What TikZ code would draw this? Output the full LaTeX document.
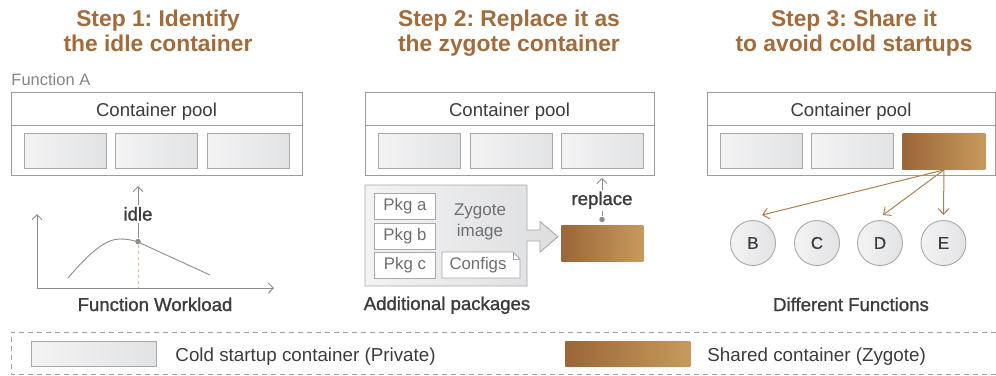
\documentclass[tikz,border=0pt]{standalone}
\usepackage{fontspec}
\setmainfont{Liberation Sans}
\newfontfamily\medfont[FakeBold=1.2]{Liberation Sans}
\newfontfamily\letterfont[FakeBold=0.6]{Liberation Sans}
\usetikzlibrary{arrows.meta,calc}
\frenchspacing

\definecolor{stepbrown}{HTML}{A36A3A}
\definecolor{zdark}{HTML}{9B6638}
\definecolor{zlight}{HTML}{C69A5D}
\definecolor{poolgray}{HTML}{9C9C9C}
\definecolor{boxgray}{HTML}{A8A8A8}
\definecolor{boxleft}{HTML}{F3F3F4}
\definecolor{boxright}{HTML}{E2E3E5}
\definecolor{txtdark}{HTML}{3C3C3C}
\definecolor{txtgray}{HTML}{6E6E6E}
\definecolor{fagray}{HTML}{858585}
\definecolor{arrowgray}{HTML}{8C8C8C}
\definecolor{arrowbrown}{HTML}{B07E4E}
\definecolor{idledash}{HTML}{E6B78E}
\definecolor{dashgray}{HTML}{A0A0A0}

\begin{document}
\begin{tikzpicture}[x=1pt,y=-1pt,line width=0.9pt,
  steptitle/.style={font=\bfseries\fontsize{22.8}{25}\selectfont,text=stepbrown,
    align=center,inner sep=0pt,anchor=north},
  pool/.style={draw=poolgray,fill=white,inner sep=0pt,anchor=north west,minimum height=83pt},
  poolline/.style={draw=poolgray},
  poolhead/.style={font=\fontsize{18.6}{20}\selectfont,text=txtdark,anchor=base,inner sep=0pt},
  cold/.style={draw=boxgray,left color=boxleft,right color=boxright,inner sep=0pt,
    anchor=north west,minimum width=82pt,minimum height=35pt},
  zyg/.style={left color=zdark,right color=zlight,draw=none,inner sep=0pt,
    anchor=north west,minimum width=82pt,minimum height=36pt},
  caption/.style={font=\medfont\fontsize{18.6}{20}\selectfont,text=txtdark,anchor=base,inner sep=0pt},
  legtext/.style={font=\fontsize{18.8}{20}\selectfont,text=txtdark,anchor=base west,inner sep=0pt},
  pkg/.style={draw=boxgray,fill=white,inner sep=0pt,anchor=north west,
    minimum width=61pt,minimum height=26pt,font=\fontsize{16.8}{18}\selectfont,text=txtgray},
  fn/.style={circle,draw=boxgray,left color=boxleft,right color=boxright,inner sep=0pt,
    minimum size=45pt,font=\letterfont\fontsize{17}{18}\selectfont,text=txtdark},
  garrow/.style={draw=arrowgray,-{Straight Barb[length=5pt,width=10pt]}},
  barrow/.style={draw=arrowbrown,line width=1pt,-{Straight Barb[length=6pt,width=11pt]}},
  dotmark/.style={circle,fill=arrowgray,inner sep=0pt,minimum size=5.5pt},
  legdash/.style={draw=dashgray,line width=0.8pt,dash pattern=on 5pt off 4pt}
]
\useasboundingbox (0,0) rectangle (996,375);

% ---------- step titles ----------
\node[steptitle] (t1) at (158,9.5) {Step 1: Identify\\the idle container};
\node[steptitle] (t2) at (509,9.5) {Step 2: Replace it as\\the zygote container};
\node[steptitle] (t3) at (854,9.5) {Step 3: Share it\\to avoid cold startups};

% ---------- step 1: container pool of function A ----------
\node[font=\fontsize{16.5}{18}\selectfont,text=fagray,anchor=base west,inner sep=0pt]
  (fa) at (11,85) {Function A};
\node[pool,minimum width=291pt] (p1) at (11,92) {};
\draw[poolline] (11,125.5) -- (302,125.5);
\node[poolhead] (h1) at (156.5,116) {Container pool};
\node[cold] (c11) at (24,133) {};
\node[cold] (c12) at (115,133) {};
\node[cold] (c13) at (207,133) {};

% workload chart
\coordinate (org) at (37,288);
\draw[garrow] (org) -- (37,214);
\draw[garrow] (org) -- (274,288);
\draw[draw=arrowgray] (68,278) .. controls (90,252) and (106,239) .. (120,239)
  .. controls (127,239) and (132,240) .. (138,242) -- (210,275);
\node[dotmark] (idot) at (138,241.5) {};
\draw[idledash,dashed,line width=1pt] (idot) -- (idot |- org);
\draw[garrow] (idot) -- (138,186);
\node[caption,fill=white,inner sep=2pt] (idle) at (138,220.5) {idle};
\node[caption] (cap1) at (155,311) {Function Workload};

% ---------- step 2: zygote replaces a pooled container ----------
\node[pool,minimum width=289pt] (p2) at (365,92) {};
\draw[poolline] (365,125.5) -- (654,125.5);
\node[poolhead] (h2) at (509.5,116) {Container pool};
\node[cold] (c21) at (378,133) {};
\node[cold] (c22) at (470,133) {};
\node[cold] (c23) at (561,133) {};

% zygote image panel with its arrow
\draw[draw=boxgray,left color=boxleft,right color=boxright!95!gray]
  (365,185) -- (527,185) -- (527,230) -- (540,230) -- (540,221.5) -- (558,236.7)
  -- (540,252) -- (540,241) -- (527,241) -- (527,286) -- (365,286) -- cycle;
\node[pkg] (pa) at (374,193) {Pkg a};
\node[pkg] (pb) at (374,222.5) {Pkg b};
\node[pkg] (pc) at (374,252) {Pkg c};
\draw[draw=boxgray,fill=white] (442,252) -- (513,252) -- (520,259) -- (520,278) -- (442,278) -- cycle;
\draw[draw=boxgray] (513,252) -- (513,259) -- (520,259);
\node[font=\fontsize{16.8}{18}\selectfont,text=txtgray,inner sep=0pt] (cfg) at (478,265.5) {Configs};
\node[font=\fontsize{17}{21}\selectfont,text=txtgray,align=center,inner sep=0pt,anchor=north]
  (zimg) at (480,203) {Zygote\\image};

\node[zyg] (z2) at (561,225) {};
\node[dotmark] (rdot) at (602,219.5) {};
\draw[garrow,shorten >=2pt] (rdot) -- (rdot |- p2.south);
\node[caption,fill=white,inner sep=2pt] (repl) at (602,205) {replace};
\node[caption] (cap2) at (447,310) {Additional packages};

% ---------- step 3: zygote shared across functions ----------
\node[pool,minimum width=288pt] (p3) at (707,92) {};
\draw[poolline] (707,125.5) -- (995,125.5);
\node[poolhead] (h3) at (851,116) {Container pool};
\node[cold] (c31) at (720,133) {};
\node[cold] (c32) at (811,133) {};
\node[zyg,minimum width=83pt] (z3) at (902,133) {};

\node[fn] (fB) at (753,243) {B};
\node[fn] (fC) at (817,243) {C};
\node[fn] (fD) at (880,243) {D};
\node[fn] (fE) at (943.5,243) {E};
\draw[barrow] (z3.south) -- ($(fB.north)+(9,-5)$);
\draw[barrow] (z3.south) -- ($(fD.north)+(3,-5)$);
\draw[barrow] (z3.south) -- ($(fE.north)+(0,-5)$);
\node[caption] (cap3) at (851,311) {Different Functions};

% ---------- legend ----------
\draw[legdash] (996,332) -- (11,332) -- (11,374) -- (996,374);
\node[cold,minimum width=125pt,minimum height=25pt] (lcold) at (31,341) {};
\node[legtext] (lt1) at (175,361) {Cold startup container (Private)};
\node[zyg,minimum width=125pt,minimum height=25pt] (lzyg) at (565,341) {};
\node[legtext] (lt2) at (707,361) {Shared container (Zygote)};
\end{tikzpicture}
\end{document}
